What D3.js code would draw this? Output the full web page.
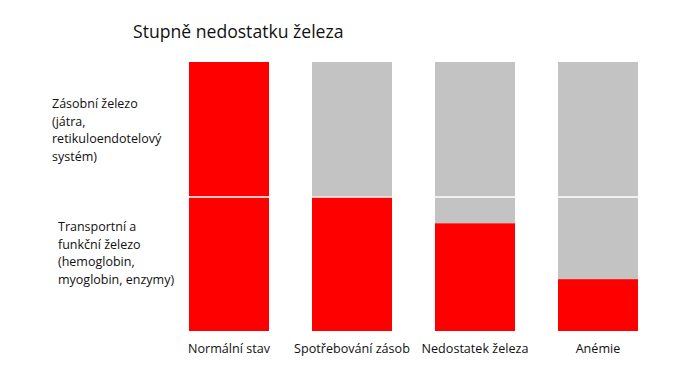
<!DOCTYPE html>
<html>
<head>
<meta charset="utf-8">
<script src="https://cdn.jsdelivr.net/npm/d3@7"></script>
<style>
  html, body { margin: 0; padding: 0; background: #fff; }
  svg { display: block; font-family: "Open Sans", "Noto Sans", sans-serif; }
</style>
</head>
<body>
<div id="chart"></div>
<script>
// Stages of iron deficiency
const title = 'Stupně nedostatku železa';
const categories = ['Normální stav', 'Spotřebování zásob', 'Nedostatek železa', 'Anémie'];
// transport / functional iron (bottom section, 0..1)
const transportIron = [1, 1, 0.8, 0.385];
// storage iron (top section, 0..1)
const storageIron = [1, 0, 0, 0];
const capacity = [2, 2, 2, 2];
const rowLabels = [
    ['Zásobní železo', '(játra,', 'retikuloendotelový', 'systém)'],
    ['Transportní a', 'funkční železo', '(hemoglobin,', 'myoglobin, enzymy)']
];

const width = 676, height = 371;

const svg = d3.select('#chart')
    .append('svg')
    .attr('width', width)
    .attr('height', height);

const x = d3.scaleBand()
    .domain(categories)
    .range([167.5, 659.5])
    .paddingInner(43 / 123)
    .paddingOuter(43 / 246);

const y = d3.scaleLinear()
    .domain([0, 2])
    .range([331, 62]);

// Title
svg.append('text')
    .attr('x', 133)
    .attr('y', 38)
    .style('font-size', '17.6px')
    .style('fill', '#111')
    .text(title);

// Gray background bars
svg.selectAll('rect.bg')
    .data(categories)
    .join('rect')
    .attr('class', 'bg')
    .attr('x', d => x(d))
    .attr('y', (d, i) => y(capacity[i]))
    .attr('width', x.bandwidth())
    .attr('height', (d, i) => y(0) - y(capacity[i]))
    .attr('fill', '#c3c3c3');

// Red bottom segment (transport iron)
svg.selectAll('rect.transport')
    .data(categories)
    .join('rect')
    .attr('class', 'transport')
    .attr('x', d => x(d))
    .attr('y', (d, i) => y(transportIron[i]))
    .attr('width', x.bandwidth())
    .attr('height', (d, i) => y(0) - y(transportIron[i]))
    .attr('fill', '#ff0000');

// Red top segment (storage iron)
svg.selectAll('rect.storage')
    .data(categories.filter((d, i) => storageIron[i] > 0))
    .join('rect')
    .attr('class', 'storage')
    .attr('x', d => x(d))
    .attr('y', d => y(1 + storageIron[categories.indexOf(d)]))
    .attr('width', x.bandwidth())
    .attr('height', d => y(1) - y(1 + storageIron[categories.indexOf(d)]))
    .attr('fill', '#ff0000');

// White divider between the two sections
svg.selectAll('line.divider')
    .data(categories)
    .join('line')
    .attr('class', 'divider')
    .attr('x1', d => x(d))
    .attr('x2', d => x(d) + x.bandwidth())
    .attr('y1', y(1) + 0.5)
    .attr('y2', y(1) + 0.5)
    .attr('stroke', '#fff')
    .attr('stroke-width', 1.5);

// Category labels
svg.selectAll('text.cat')
    .data(categories)
    .join('text')
    .attr('class', 'cat')
    .attr('x', d => x(d) + x.bandwidth() / 2)
    .attr('y', 353)
    .attr('text-anchor', 'middle')
    .style('font-size', '12.6px')
    .style('fill', '#111')
    .text(d => d);

// Row labels on the left
const rowPos = [{ x: 52, y: 108 }, { x: 58, y: 231 }];
rowLabels.forEach((lines, r) => {
    const t = svg.append('text')
        .attr('x', rowPos[r].x)
        .attr('y', rowPos[r].y)
        .style('font-size', '12.5px')
        .style('fill', '#111');
    lines.forEach((line, i) => {
        t.append('tspan')
            .attr('x', rowPos[r].x)
            .attr('dy', i === 0 ? 0 : 17.5)
            .text(line);
    });
});
</script>
</body>
</html>
